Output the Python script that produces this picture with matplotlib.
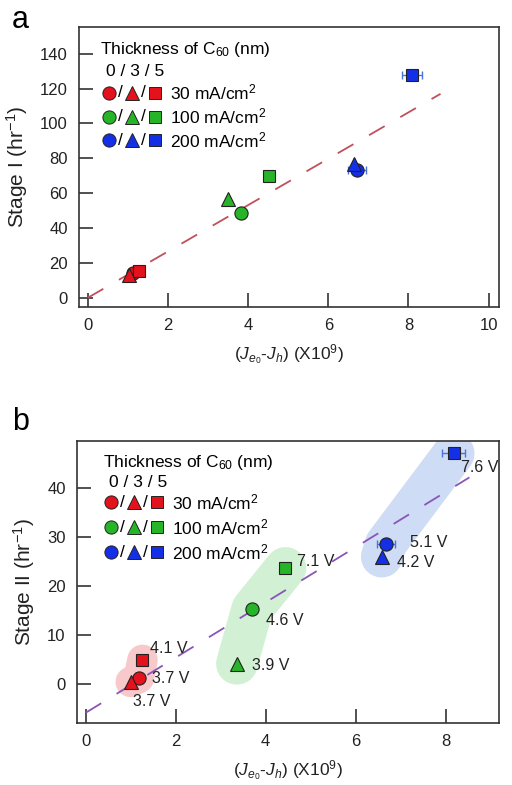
import matplotlib
matplotlib.use("Agg")
import matplotlib.pyplot as plt

plt.rcParams["font.family"] = ["Liberation Sans", "DejaVu Sans"]
plt.rcParams["mathtext.fontset"] = "custom"
plt.rcParams["mathtext.rm"] = "Liberation Sans"
plt.rcParams["mathtext.it"] = "Liberation Sans:italic"

# colours per current density, markers per C60 thickness
densities = ["30 mA/cm$^2$", "100 mA/cm$^2$", "200 mA/cm$^2$"]
colors = ["#e3121c", "#28b428", "#1430e6"]
shades = ["#f7c9cb", "#d2f0d3", "#cfdcf5"]
thickness_markers = ["o", "^", "s"]  # 0 / 3 / 5 nm

# panel a: stage I  (rows = density, cols = thickness 0/3/5)
a_x = [[1.12, 1.03, 1.28], [3.82, 3.51, 4.51], [6.71, 6.63, 8.08]]
a_y = [[14.0, 13.0, 15.5], [48.9, 56.8, 69.6], [73.4, 77.0, 128.0]]
a_xerr = [[0, 0, 0], [0, 0, 0], [0.23, 0, 0.25]]
a_fit = ([0, 8.8], [0, 117])

# panel b: stage II
b_x = [[1.18, 1.0, 1.26], [3.7, 3.36, 4.44], [6.67, 6.58, 8.18]]
b_y = [[1.2, 0.4, 4.9], [15.3, 4.1, 23.7], [28.6, 26.0, 47.1]]
b_xerr = [[0, 0, 0], [0, 0, 0], [0.2, 0, 0.25]]
b_fit = ([0, 8.53], [-5.9, 42.2])
b_volts = [["3.7 V", "3.7 V", "4.1 V"], ["4.6 V", "3.9 V", "7.1 V"], ["5.1 V", "4.2 V", "7.6 V"]]
b_volt_pos = [[(1.47, 1.0), (1.05, -3.7), (1.43, 7.3)],
              [(4.0, 13.0), (3.7, 3.7), (4.7, 25.1)],
              [(7.2, 28.8), (6.93, 24.9), (8.35, 44.3)]]

xlabel = r"$(J_{e_0}$-$J_h)$ (X10$^9$)"

fig = plt.figure(figsize=(5.12, 7.85), dpi=100)
ax_a = fig.add_axes([0.154, 0.609, 0.820, 0.357])
ax_b = fig.add_axes([0.150, 0.079, 0.824, 0.359])


def draw_points(ax, xs, ys, xerrs):
    for i in range(3):
        for j in range(3):
            if xerrs[i][j] > 0:
                ax.errorbar(xs[i][j], ys[i][j], xerr=xerrs[i][j], fmt="none",
                            ecolor="#4a74dc", elinewidth=1, capsize=3, zorder=3)
            ax.plot(xs[i][j], ys[i][j], marker=thickness_markers[j], ms=9.5 if j != 2 else 9,
                    mfc=colors[i], mec="#222222", mew=0.8, ls="none", zorder=4)


def draw_legend(ax, x0, ys, xm):
    ax.text(x0, ys[0], "Thickness of C$_{60}$ (nm)", transform=ax.transAxes,
            fontsize=12.5, va="center", ha="left")
    ax.text(x0 + 0.015, ys[1], "0 / 3 / 5", transform=ax.transAxes,
            fontsize=12.5, va="center", ha="left")
    for i in range(3):
        y = ys[2 + i]
        for j in range(3):
            ax.plot(xm[j], y, marker=thickness_markers[j], ms=9.5 if j != 2 else 8.5,
                    mfc=colors[i], mec="#222222", mew=0.7, transform=ax.transAxes,
                    clip_on=False, zorder=5)
        for k in range(2):
            ax.text((xm[k] + xm[k + 1]) / 2, y, "/", transform=ax.transAxes,
                    fontsize=12.5, va="center", ha="center")
        ax.text(xm[2] + 0.035, y, densities[i], transform=ax.transAxes,
                fontsize=12.5, va="center", ha="left")


def style(ax, xlim, ylim, xticks, yticks, ylabel):
    ax.set_xlim(*xlim)
    ax.set_ylim(*ylim)
    ax.set_xticks(xticks)
    ax.set_yticks(yticks)
    ax.tick_params(direction="in", length=10, width=1.2, labelsize=12,
                   pad=8, color="#333333", labelcolor="#222222")
    for s in ax.spines.values():
        s.set_linewidth(1.2)
        s.set_color("#333333")
    ax.set_xlabel(xlabel, fontsize=12.5, labelpad=7, color="#222222")
    ax.set_ylabel(ylabel, fontsize=15, labelpad=7, color="#222222")


# ---- panel a ----
ax_a.plot(a_fit[0], a_fit[1], ls=(0, (10, 10)), color="#c0505a", lw=1.3, zorder=2)
draw_points(ax_a, a_x, a_y, a_xerr)
draw_legend(ax_a, 0.05, [0.92, 0.84, 0.764, 0.679, 0.594], [0.071, 0.127, 0.181])
style(ax_a, (-0.22, 10.25), (-5.2, 155.5), range(0, 11, 2), range(0, 141, 20),
      "Stage I (hr$^{-1}$)")

# ---- panel b ----
for i in range(3):
    order = sorted(range(3), key=lambda j: b_y[i][j])
    ax_b.plot([b_x[i][j] for j in order], [b_y[i][j] for j in order],
              color=shades[i], lw=22 if i == 0 else 30, solid_capstyle="round",
              solid_joinstyle="round", zorder=1)
ax_b.plot(b_fit[0], b_fit[1], ls=(0, (10, 10)), color="#8a55b8", lw=1.3, zorder=2)
draw_points(ax_b, b_x, b_y, b_xerr)
for i in range(3):
    for j in range(3):
        ax_b.text(b_volt_pos[i][j][0], b_volt_pos[i][j][1], b_volts[i][j],
                  fontsize=11.5, va="center", ha="left", color="#222222", zorder=5)
draw_legend(ax_b, 0.062, [0.926, 0.855, 0.784, 0.695, 0.606], [0.08, 0.135, 0.19])
style(ax_b, (-0.2, 9.18), (-8.0, 49.6), range(0, 9, 2), range(0, 41, 10),
      "Stage II (hr$^{-1}$)")

fig.text(0.04, 0.975, "a", fontsize=22, va="center", ha="center")
fig.text(0.04, 0.462, "b", fontsize=22, va="center", ha="center")

fig.savefig("out.png", dpi=100)
